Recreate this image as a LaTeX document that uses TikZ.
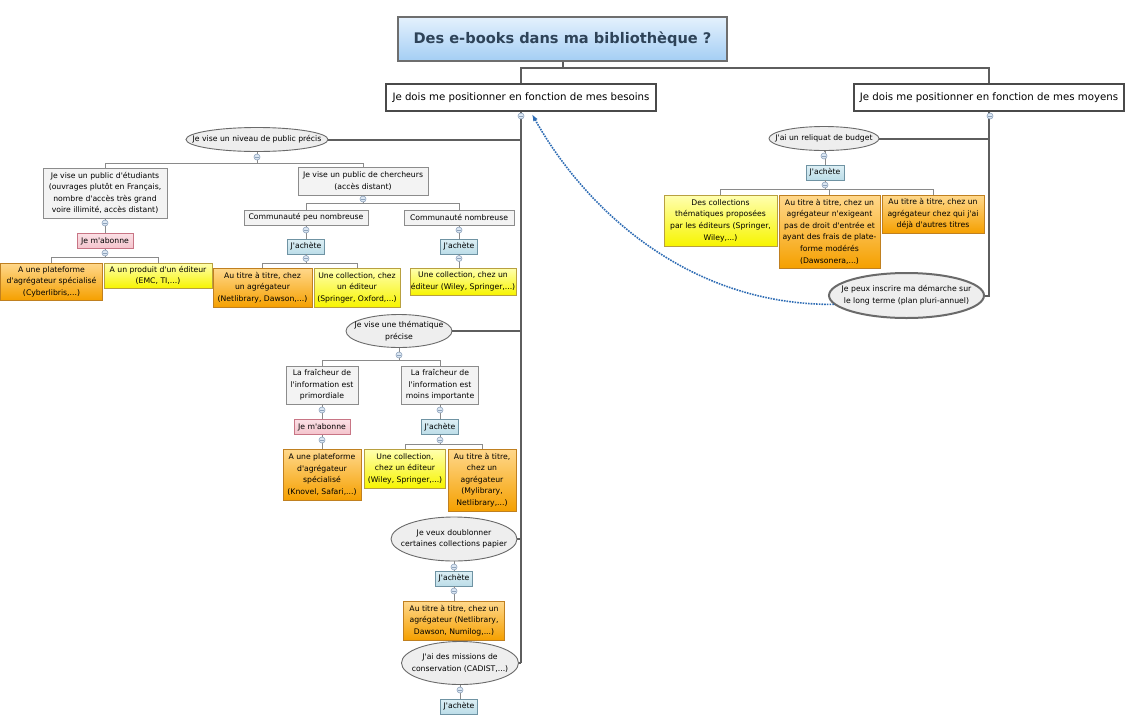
\documentclass[tikz,border=0pt]{standalone}
\usepackage{fontspec}
\setmainfont{DejaVu Sans}[Ligatures=TeXOff]
\usetikzlibrary{shapes.geometric,arrows.meta}
\definecolor{rootT}{HTML}{E4F1FD}
\definecolor{rootB}{HTML}{A4CEF4}
\definecolor{rootD}{HTML}{6E6E6E}
\definecolor{rootTxt}{HTML}{2E4358}
\definecolor{lvlD}{HTML}{4A4A4A}
\definecolor{trunkC}{HTML}{5E5E5E}
\definecolor{twigC}{HTML}{8A8A8A}
\definecolor{ellF}{HTML}{EEEEEE}
\definecolor{ellD}{HTML}{6A6A6A}
\definecolor{grayF}{HTML}{F3F3F3}
\definecolor{grayD}{HTML}{8C8C8C}
\definecolor{yelT}{HTML}{FFFFB0}
\definecolor{yelB}{HTML}{F7F400}
\definecolor{yelD}{HTML}{B8A040}
\definecolor{oraT}{HTML}{FFD88C}
\definecolor{oraB}{HTML}{F5A000}
\definecolor{oraD}{HTML}{C08020}
\definecolor{pinkT}{HTML}{FBE0E5}
\definecolor{pinkB}{HTML}{F4C3CC}
\definecolor{pinkD}{HTML}{C87585}
\definecolor{blueT}{HTML}{DDEFF5}
\definecolor{blueB}{HTML}{BCDDE8}
\definecolor{blueD}{HTML}{6F93A3}
\definecolor{knobF}{HTML}{DCE7F3}
\definecolor{knobD}{HTML}{8EA3BC}
\definecolor{linkC}{HTML}{2F6DB5}
\newcommand\smallfnt{\fontsize{7.7}{11.6}\selectfont}
\tikzset{
  base/.style={draw, inner sep=0pt, align=center, font=\smallfnt, line width=0.8pt},
  graybox/.style={base, fill=grayF, draw=grayD},
  yelbox/.style={base, top color=yelT, bottom color=yelB, draw=yelD},
  orabox/.style={base, top color=oraT, bottom color=oraB, draw=oraD},
  abobox/.style={base, top color=pinkT, bottom color=pinkB, draw=pinkD},
  achbox/.style={base, top color=blueT, bottom color=blueB, draw=blueD},
  bubble/.style={ellipse, draw=ellD, fill=ellF, line width=0.9pt, align=center, font=\smallfnt,
    inner xsep=-40pt, inner ysep=-30pt},
  rootbox/.style={draw=rootD, top color=rootT, bottom color=rootB, line width=1.6pt, inner sep=0pt,
    font=\fontsize{14.6}{17}\selectfont\bfseries, text=rootTxt},
  lvlbox/.style={draw=lvlD, fill=white, line width=2.2pt, inner sep=0pt, font=\fontsize{10.2}{12}\selectfont},
  knob/.style={circle, draw=knobD, fill=knobF, minimum size=6pt, inner sep=0pt, line width=0.6pt,
    path picture={\draw[knobD, line width=0.5pt] ([xshift=-1.6pt]path picture bounding box.center) -- ([xshift=1.6pt]path picture bounding box.center);}},
  trunk/.style={draw=trunkC, line width=2pt},
  twig/.style={draw=twigC, line width=0.9pt},
  linkline/.style={draw=linkC, line width=1.6pt, dash pattern=on 1.6pt off 1.1pt, -{Latex[length=7pt,width=5pt]}},
}
\begin{document}
\begin{tikzpicture}[x=1pt,y=-1pt]
\useasboundingbox (0,0) rectangle (1130,726);
\fill[white] (0,0) rectangle (1130,726);
% ---------- main nodes ----------
\node[rootbox, minimum width=329pt, minimum height=44pt] (root) at (562.5,39) {Des e-books dans ma bibliothèque ?};
\node[lvlbox, minimum width=270pt, minimum height=27pt] (bes) at (521,97.5) {Je dois me positionner en fonction de mes besoins};
\node[lvlbox, minimum width=270pt, minimum height=27pt] (moy) at (989,97.5) {Je dois me positionner en fonction de mes moyens};
% left: public
\node[bubble, minimum width=142pt, minimum height=24pt] (niv) at (257,139.5) {Je vise un niveau de public précis};
\node[graybox, minimum width=124pt, minimum height=50pt] (stu) at (105,193) {Je vise un public d'étudiants\\(ouvrages plutôt en Français,\\nombre d'accès très grand\\voire illimité, accès distant)};
\node[abobox, minimum width=56pt, minimum height=15pt] (abo1) at (105,241) {Je m'abonne};
\node[orabox, minimum width=102pt, minimum height=37pt] (pla1) at (51.5,281.5) {A une plateforme\\d'agrégateur spécialisé\\(Cyberlibris,...)};
\node[yelbox, minimum width=108pt, minimum height=25pt] (prod) at (158,275.5) {A un produit d'un éditeur\\(EMC, TI,...)};
\node[graybox, minimum width=130pt, minimum height=28pt] (cher) at (363,181) {Je vise un public de chercheurs\\(accès distant)};
\node[graybox, minimum width=124pt, minimum height=15pt] (peu) at (306,217.5) {Communauté peu nombreuse};
\node[graybox, minimum width=110pt, minimum height=15pt] (nomb) at (459,217.5) {Communauté nombreuse};
\node[achbox, minimum width=37pt, minimum height=15pt] (ach1) at (306,246.5) {J'achète};
\node[achbox, minimum width=37pt, minimum height=15pt] (ach2) at (459,246.5) {J'achète};
\node[orabox, minimum width=99pt, minimum height=39pt] (tit1) at (262.5,287.5) {Au titre à titre, chez\\un agrégateur\\(Netlibrary, Dawson,...)};
\node[yelbox, minimum width=86pt, minimum height=39pt] (col1) at (357,287.5) {Une collection, chez\\un éditeur\\(Springer, Oxford,...)};
\node[yelbox, minimum width=106pt, minimum height=27pt] (col2) at (463,281.5) {Une collection, chez un\\éditeur (Wiley, Springer,...)};
% left: thematique
\node[bubble, minimum width=106pt, minimum height=33pt] (them) at (399,331) {Je vise une thématique\\précise};
\node[graybox, minimum width=72pt, minimum height=38pt] (prim) at (322,385) {La fraîcheur de\\l'information est\\primordiale};
\node[graybox, minimum width=77pt, minimum height=38pt] (moins) at (440,385) {La fraîcheur de\\l'information est\\moins importante};
\node[abobox, minimum width=56pt, minimum height=15pt] (abo2) at (322,427) {Je m'abonne};
\node[achbox, minimum width=37pt, minimum height=15pt] (ach3) at (440,427) {J'achète};
\node[orabox, minimum width=78pt, minimum height=51pt] (pla2) at (322,474.5) {A une plateforme\\d'agrégateur\\spécialisé\\(Knovel, Safari,...)};
\node[yelbox, minimum width=81pt, minimum height=39pt] (col3) at (405,468.5) {Une collection,\\chez un éditeur\\(Wiley, Springer,...)};
\node[orabox, minimum width=68pt, minimum height=62pt] (tit2) at (482,480) {Au titre à titre,\\chez un\\agrégateur\\(Mylibrary,\\Netlibrary,...)};
% left: doublonner, missions
\node[bubble, minimum width=126pt, minimum height=44pt] (doub) at (454,539) {Je veux doublonner\\certaines collections papier};
\node[achbox, minimum width=37pt, minimum height=15pt] (ach4) at (454,578.5) {J'achète};
\node[orabox, minimum width=101pt, minimum height=39pt] (tit3) at (454,620.5) {Au titre à titre, chez un\\agrégateur (Netlibrary,\\Dawson, Numilog,...)};
\node[bubble, minimum width=117pt, minimum height=43pt] (mis) at (460,663) {J'ai des missions de\\conservation (CADIST,...)};
\node[achbox, minimum width=37pt, minimum height=15pt] (ach5) at (459,706.5) {J'achète};
% right
\node[bubble, minimum width=110pt, minimum height=24pt] (rel) at (824,138.5) {J'ai un reliquat de budget};
\node[achbox, minimum width=38pt, minimum height=15pt] (ach6) at (825,172.5) {J'achète};
\node[yelbox, minimum width=113pt, minimum height=51pt] (col4) at (720.5,220.5) {Des collections\\thématiques proposées\\par les éditeurs (Springer,\\Wiley,...)};
\node[orabox, minimum width=101pt, minimum height=73pt] (tit4) at (829.5,231.5) {Au titre à titre, chez un\\agrégateur n'exigeant\\pas de droit d'entrée et\\ayant des frais de plate-\\forme modérés\\(Dawsonera,...)};
\node[orabox, minimum width=102pt, minimum height=38pt] (tit5) at (933,214) {Au titre à titre, chez un\\agrégateur chez qui j'ai\\déjà d'autres titres};
\node[bubble, minimum width=155pt, minimum height=45pt, line width=2pt] (ins) at (906.5,295.5) {Je peux inscrire ma démarche sur\\le long terme (plan pluri-annuel)};
% ---------- connectors ----------
\draw[trunk] (root.south) -- ++(0,6) coordinate (rj) -| (bes.north);
\draw[trunk] (rj) -| (moy.north);
\draw[trunk] (bes.south) -- (bes.south |- mis.east);
\draw[trunk] (niv.east) -- (niv.east -| bes.south);
\draw[trunk] (them.east) -- (them.east -| bes.south);
\draw[trunk] (doub.east) -- (doub.east -| bes.south);
\draw[trunk] (mis.east) -- (mis.east -| bes.south);
\draw[trunk] (moy.south) |- (ins.east);
\draw[trunk] (rel.east) -- (rel.east -| moy.south);
% public
\coordinate (b1) at (257,163);
\draw[twig] (niv.south) -- (b1) -| (stu.north);
\draw[twig] (b1) -| (cher.north);
\draw[twig] (stu.south) -- (abo1.north);
\coordinate (b2) at (105,257);
\draw[twig] (abo1.south) -- (b2) -| (pla1.north);
\draw[twig] (b2) -| (prod.north);
\coordinate (b3) at (363,203);
\draw[twig] (cher.south) -- (b3) -| (peu.north);
\draw[twig] (b3) -| (nomb.north);
\draw[twig] (peu.south) -- (ach1.north);
\draw[twig] (nomb.south) -- (ach2.north);
\coordinate (b4) at (306,263);
\draw[twig] (ach1.south) -- (b4) -| (tit1.north);
\draw[twig] (b4) -| (col1.north);
\draw[twig] (ach2.south) -- (ach2.south |- col2.north);
% thematique
\coordinate (b5) at (399,360);
\draw[twig] (them.south) -- (b5) -| (prim.north);
\draw[twig] (b5) -| (moins.north);
\draw[twig] (prim.south) -- (abo2.north);
\draw[twig] (abo2.south) -- (pla2.north);
\draw[twig] (moins.south) -- (ach3.north);
\coordinate (b6) at (440,444);
\draw[twig] (ach3.south) -- (b6) -| (col3.north);
\draw[twig] (b6) -| (tit2.north);
% doublonner, missions
\draw[twig] (doub.south) -- (ach4.north);
\draw[twig] (ach4.south) -- (tit3.north);
\draw[twig] (mis.south) -- (mis.south |- ach5.north);
% right
\draw[twig] (rel.south) -- (rel.south -| ach6.north) -- (ach6.north);
\coordinate (b7) at (825,189.5);
\draw[twig] (ach6.south) -- (b7) -| (col4.north);
\draw[twig] (b7) -| (tit5.north);
\draw[twig] (b7) -- (b7 -| tit4.north) -- (tit4.north);
% ---------- knobs ----------
\node[knob] (kbes) at (521,116) {};
\node[knob] (kmoy) at (990,116) {};
\node[knob] (kniv) at (257,157) {};
\node[knob] (kstu) at (105,223) {};
\node[knob] (kabo1) at (105,253) {};
\node[knob] (kcher) at (363,199) {};
\node[knob] (kpeu) at (306,230) {};
\node[knob] (kach1) at (306,258.5) {};
\node[knob] (knomb) at (459,230) {};
\node[knob] (kach2) at (459,258.5) {};
\node[knob] (kthem) at (399,355) {};
\node[knob] (kprim) at (322,410) {};
\node[knob] (kabo2) at (322,440) {};
\node[knob] (kmoins) at (440,410) {};
\node[knob] (kach3) at (440,440) {};
\node[knob] (kdoub) at (454,567) {};
\node[knob] (kach4) at (454,591) {};
\node[knob] (kmis) at (460,690) {};
\node[knob] (krel) at (824,156) {};
\node[knob] (kach6) at (825,185) {};
% ---------- relation ----------
\coordinate (tip) at ([xshift=11pt,yshift=-2pt]bes.south);
\draw[linkline] (ins.187) .. controls (680,305) and (580,200) .. (tip);
\end{tikzpicture}
\end{document}
